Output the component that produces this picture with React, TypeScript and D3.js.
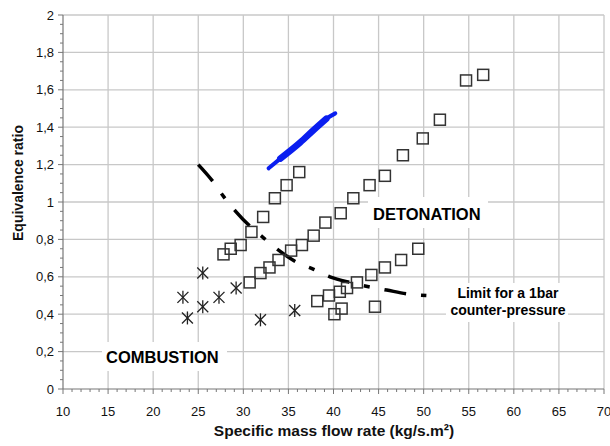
import React from "react";
import * as d3 from "d3";

const xTicks = [10, 15, 20, 25, 30, 35, 40, 45, 50, 55, 60, 65, 70];
const yTicks = [0, 0.2, 0.4, 0.6, 0.8, 1, 1.2, 1.4, 1.6, 1.8, 2];
const yTickLabels = ["0", "0,2", "0,4", "0,6", "0,8", "1", "1,2", "1,4", "1,6", "1,8", "2"];

const squaresUpper: [number, number][] = [
  [27.8, 0.72], [28.6, 0.75], [29.7, 0.77], [30.9, 0.84], [32.2, 0.92], [33.5, 1.02], [34.8, 1.09], [36.2, 1.16],
];
const squaresMiddle: [number, number][] = [
  [30.7, 0.57], [31.9, 0.62], [32.9, 0.65], [33.9, 0.69], [35.3, 0.74], [36.5, 0.77], [37.8, 0.82], [39.1, 0.89],
  [40.8, 0.94], [42.2, 1.02], [44.0, 1.09], [45.7, 1.14], [47.7, 1.25], [49.9, 1.34], [51.8, 1.44], [54.7, 1.65], [56.6, 1.68],
];
const squaresLower: [number, number][] = [
  [38.2, 0.47], [39.5, 0.5], [40.7, 0.52], [41.5, 0.54], [42.6, 0.57], [44.2, 0.61], [45.7, 0.65], [47.5, 0.69],
  [49.4, 0.75], [40.1, 0.4], [40.9, 0.43], [44.6, 0.44],
];
const stars: [number, number][] = [
  [23.3, 0.49], [23.8, 0.38], [25.5, 0.62], [25.5, 0.44], [27.3, 0.49], [29.2, 0.54], [31.9, 0.37], [35.7, 0.42],
];
const limitCurve: [number, number][] = [
  [25.0, 1.2], [26.7, 1.105], [27.8, 1.03], [29.1, 0.953], [30.7, 0.872], [32.3, 0.806], [33.9, 0.743],
  [35.8, 0.681], [37.8, 0.64], [39.6, 0.6], [42.0, 0.568], [43.9, 0.547], [45.9, 0.529], [48.3, 0.508], [50.3, 0.5],
];
const blueBand: [number, number][] = [
  [32.8, 1.18], [34.1, 1.232], [36.3, 1.318], [37.8, 1.385], [39.2, 1.445], [40.2, 1.474],
];

const FONT = "'Liberation Sans', Arial, Helvetica, sans-serif";

export default function App() {
  const x = d3.scaleLinear().domain([10, 70]).range([63, 604]);
  const y = d3.scaleLinear().domain([0, 2]).range([389, 15]);

  const xMinor = d3.range(10, 70.001, 1);
  const yMinor = d3.range(0, 2.0001, 0.05);

  const line = d3.line<[number, number]>().x((d) => x(d[0])).y((d) => y(d[1])).curve(d3.curveMonotoneX);
  const blueLine = d3.line<[number, number]>().x((d) => x(d[0])).y((d) => y(d[1])).curve(d3.curveMonotoneX);

  const sq = 11;
  const st = 5.5;

  return (
    <svg width={610} height={446} style={{ position: "absolute", left: 0, top: 0, background: "#fff" }} fontFamily={FONT}>
      <rect width={610} height={446} fill="#fff" />
      {/* grid */}
      {xTicks.slice(1).map((t) => (
        <line key={"gx" + t} x1={x(t)} x2={x(t)} y1={y(2)} y2={y(0)} stroke="#c8c8c8" strokeWidth={1.3} />
      ))}
      {yTicks.slice(1).map((t) => (
        <line key={"gy" + t} x1={x(10)} x2={x(70)} y1={y(t)} y2={y(t)} stroke="#c8c8c8" strokeWidth={1.3} />
      ))}
      {/* label backgrounds */}
      <rect x={368} y={197} width={120} height={31} fill="#fff" />
      <rect x={102} y={342} width={125} height={29} fill="#fff" />
      <rect x={446} y={283} width={122} height={39} fill="#fff" />

      {/* axes */}
      <line x1={x(10)} x2={x(10)} y1={y(0)} y2={y(2)} stroke="#777" strokeWidth={1.2} />
      <line x1={x(10)} x2={x(70)} y1={y(0)} y2={y(0)} stroke="#777" strokeWidth={1.2} />
      {yMinor.map((t, i) => (
        <line key={"ym" + i} x1={x(10) - (i % 4 === 0 ? 5 : 3)} x2={x(10)} y1={y(t)} y2={y(t)} stroke="#777" strokeWidth={1} />
      ))}
      {xMinor.map((t, i) => (
        <line key={"xm" + i} x1={x(t)} x2={x(t)} y1={y(0)} y2={y(0) + (i % 5 === 0 ? 5 : 3)} stroke="#777" strokeWidth={1} />
      ))}
      {yTicks.map((t, i) => (
        <text key={"yl" + t} x={54} y={y(t)} dy="0.35em" textAnchor="end" fontSize={13} fill="#111">
          {yTickLabels[i]}
        </text>
      ))}
      {xTicks.map((t) => (
        <text key={"xl" + t} x={x(t)} y={416} textAnchor="middle" fontSize={13} fill="#111">
          {t}
        </text>
      ))}
      <text x={334} y={436} textAnchor="middle" fontSize={15.5} fontWeight="bold" fill="#111">
        Specific mass flow rate (kg/s.m²)
      </text>
      <text transform="translate(23,183) rotate(-90)" textAnchor="middle" fontSize={14} fontWeight="bold" fill="#111">
        Equivalence ratio
      </text>

      {/* limit curve */}
      <path d={line(limitCurve) || ""} fill="none" stroke="#000" strokeWidth={3.5} strokeDasharray="22,15,6,15" />

      {/* blue band */}
      <path d={blueLine(blueBand) || ""} fill="none" stroke="#0a1ef0" strokeWidth={4} strokeLinecap="round" />
      <path d={blueLine(blueBand.slice(1, -1)) || ""} fill="none" stroke="#0a1ef0" strokeWidth={6.5} strokeLinecap="round" />

      {/* squares */}
      {[...squaresUpper, ...squaresMiddle, ...squaresLower].map((d, i) => (
        <rect key={"s" + i} x={x(d[0]) - sq / 2} y={y(d[1]) - sq / 2} width={sq} height={sq} fill="none" stroke="#333" strokeWidth={1.5} />
      ))}
      {/* stars */}
      {stars.map((d, i) => {
        const cx = x(d[0]);
        const cy = y(d[1]);
        return (
          <g key={"st" + i} stroke="#222" strokeWidth={1.3}>
            <line x1={cx - st} x2={cx + st} y1={cy - st} y2={cy + st} />
            <line x1={cx - st} x2={cx + st} y1={cy + st} y2={cy - st} />
            <line x1={cx} x2={cx} y1={cy - st - 1} y2={cy + st + 1} />
          </g>
        );
      })}

      {/* labels */}
      <text x={373} y={220} fontSize={16.5} fontWeight="bold" fill="#000">DETONATION</text>
      <text x={106} y={363} fontSize={16.5} fontWeight="bold" fill="#000">COMBUSTION</text>
      <text x={508} y={298} textAnchor="middle" fontSize={14} fontWeight="bold" fill="#000">Limit for a 1bar</text>
      <text x={508} y={315} textAnchor="middle" fontSize={14} fontWeight="bold" fill="#000">counter-pressure</text>
    </svg>
  );
}
